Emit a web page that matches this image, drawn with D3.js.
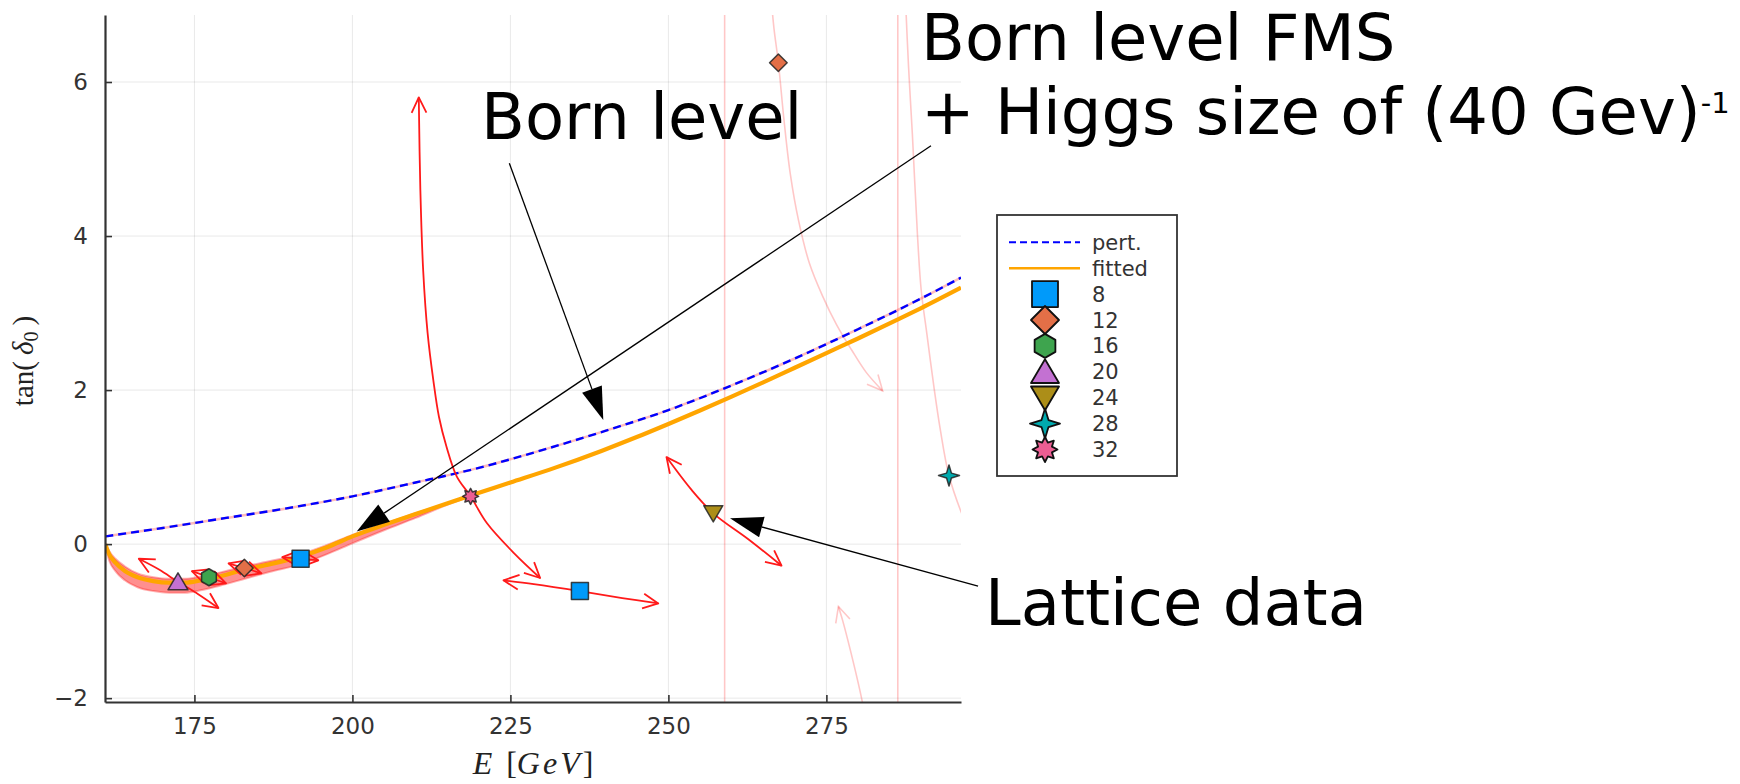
<!DOCTYPE html>
<html>
<head>
<meta charset="utf-8">
<script src="https://cdn.jsdelivr.net/npm/d3@7"></script>
<style>
  html, body { margin: 0; padding: 0; background: #fff; }
  svg { display: block; }
</style>
</head>
<body>
<svg id="chart" width="1740" height="784"></svg>
<script>
// ---- axis ticks ----
const energyTicks = [175, 200, 225, 250, 275];
const tanTicks = [-2, 0, 2, 4, 6];

// ---- fitted phase shift (orange) ----
const fitE = [160.9, 161.5, 162.5, 164, 166, 168.5, 171, 173.5, 176, 179, 183, 187, 191.8, 196, 200, 205, 210, 218.7, 225, 232, 239.4, 245, 250, 255, 260, 265, 270, 275, 280, 286, 290, 296.3];
const fitT = [0.00, -0.13, -0.24, -0.35, -0.43, -0.48, -0.50, -0.50, -0.47, -0.42, -0.33, -0.26, -0.16, -0.04, 0.10, 0.25, 0.39, 0.63, 0.80, 0.99, 1.21, 1.39, 1.56, 1.735, 1.915, 2.10, 2.29, 2.48, 2.67, 2.905, 3.065, 3.33];

// ---- uncertainty band of the fit ----
const bandE  = [160.9, 161.5, 162.5, 164, 166, 168.5, 171, 173.5, 176, 179, 183, 187, 191.8, 196, 200, 205, 210, 215, 218.7];
const bandLo = [-0.01, -0.21, -0.35, -0.47, -0.56, -0.61, -0.63, -0.63, -0.60, -0.54, -0.45, -0.36, -0.26, -0.13, 0.01, 0.18, 0.34, 0.51, 0.62];
const bandHi = [0.01, -0.09, -0.19, -0.29, -0.38, -0.43, -0.45, -0.45, -0.42, -0.37, -0.29, -0.22, -0.13, -0.01, 0.12, 0.26, 0.40, 0.53, 0.63];

// ---- perturbative curve (blue dashed) ----
const pertE = [160.9, 170, 180, 190, 200, 210, 220, 230, 240, 250, 260, 270, 280, 290, 296.3];
const pertT = [0.10, 0.21, 0.34, 0.47, 0.62, 0.80, 0.99, 1.22, 1.47, 1.74, 2.06, 2.41, 2.79, 3.19, 3.46];

// ---- lattice points, one series per lattice size ----
const seriesNames = ["8", "12", "16", "20", "24", "28", "32"];
const seriesShapes = ["square", "diamond", "hexagon", "utriangle", "dtriangle", "star4", "star8"];
const seriesColors = ["#009AFA", "#E36F47", "#3EA44E", "#C371D2", "#AC8E18", "#00AAAE", "#ED5E93"];
const seriesE = [[191.8, 236.0], [182.9, 267.4], [177.3], [172.4], [257.1], [294.4], [218.7]];
const seriesT = [[-0.19, -0.61], [-0.31, 6.25], [-0.43], [-0.49], [0.40], [0.89], [0.62]];

// ---- error curves through the lattice points (double-headed) ----
const errCurves = [
  [[210.5, 5.80], [210.75, 4.60], [211.2, 3.55], [211.9, 2.74], [212.8, 2.13], [213.7, 1.65], [214.9, 1.26], [216.5, 0.88], [218.7, 0.62], [221.3, 0.27], [225.6, -0.12], [229.7, -0.44]],
  [[223.9, -0.47], [228.7, -0.52], [236.0, -0.61], [242.7, -0.70], [248.4, -0.77]],
  [[249.7, 1.13], [253.7, 0.70], [257.1, 0.40], [262.7, 0.06], [267.9, -0.28]],
  [[166.2, -0.19], [169.4, -0.33], [172.4, -0.49], [175.6, -0.65], [178.8, -0.83]],
  [[174.6, -0.35], [177.3, -0.43], [180.0, -0.51]],
  [[180.4, -0.25], [182.9, -0.31], [185.6, -0.38]],
  [[188.9, -0.17], [191.8, -0.19], [194.6, -0.21]]
];

// ---- faint error curves that run off the frame (head at the last point only) ----
const faintCurves = [
  [[266.3, 7.05], [266.7, 6.70], [267.4, 6.25], [268.3, 5.50], [269.3, 4.80], [270.6, 4.20], [272.3, 3.65], [274.4, 3.22], [276.6, 2.85], [279.0, 2.52], [281.3, 2.23], [283.9, 1.99]],
  [[281.3, -2.30], [280.3, -1.90], [278.8, -1.38], [277.6, -1.00], [276.9, -0.81]]
];
const faintOpen = [
  [[287.5, 7.10], [288.0, 6.20], [288.6, 5.33], [289.4, 4.03], [290.0, 3.30], [290.9, 2.73], [292.0, 2.05], [293.0, 1.50], [294.4, 0.89], [296.5, 0.38], [297.5, 0.20]]
];
const faintVerticals = [258.9, 286.3];

// ---- chart frame ----
const svg = d3.select("#chart");
const x = d3.scaleLinear().domain([160.85, 296.3]).range([105, 961]);
const y = d3.scaleLinear().domain([-2.05, 6.87]).range([702, 15]);
const [x0, x1] = x.range();
const [y0, y1] = y.range();

svg.append("rect").attr("width", 1740).attr("height", 784).attr("fill", "#fff");

svg.append("defs").append("clipPath").attr("id", "plotClip")
  .append("rect").attr("x", x0).attr("y", y1).attr("width", x1 - x0).attr("height", y0 - y1);

// grid
const grid = svg.append("g").attr("stroke", "#000").attr("stroke-opacity", 0.09).attr("stroke-width", 1);
grid.selectAll("line.gx").data(energyTicks).join("line")
  .attr("x1", d => x(d)).attr("x2", d => x(d)).attr("y1", y1).attr("y2", y0);
grid.selectAll("line.gy").data(tanTicks).join("line")
  .attr("y1", d => y(d)).attr("y2", d => y(d)).attr("x1", x0).attr("x2", x1);

const plot = svg.append("g").attr("clip-path", "url(#plotClip)");

// band
const bandData = bandE.map((e, i) => ({ e, lo: bandLo[i], hi: bandHi[i] }));
plot.append("path").datum(bandData)
  .attr("d", d3.area().x(d => x(d.e)).y0(d => y(d.lo)).y1(d => y(d.hi)).curve(d3.curveMonotoneX))
  .attr("fill", "#ff2020").attr("fill-opacity", 0.5).attr("stroke", "#ff2020").attr("stroke-opacity", 0.35).attr("stroke-width", 2);

// faint curves
const smooth = d3.line().x(d => x(d[0])).y(d => y(d[1])).curve(d3.curveCatmullRom.alpha(0.5));
const faint = plot.append("g").attr("fill", "none").attr("stroke", "#ff0000").attr("stroke-opacity", 0.22).attr("stroke-width", 1.6);
faint.selectAll("line.v").data(faintVerticals).join("line")
  .attr("x1", d => x(d)).attr("x2", d => x(d)).attr("y1", y1).attr("y2", y0);
faint.selectAll("path.open").data(faintOpen).join("path").attr("d", smooth);
faint.selectAll("path.c").data(faintCurves).join("path").attr("d", smooth);

function chevron(pts, atEnd, len, ang) {
  const a = atEnd ? pts[pts.length - 1] : pts[0];
  const b = atEnd ? pts[pts.length - 2] : pts[1];
  const tx = x(a[0]), ty = y(a[1]);
  const dx = x(b[0]) - tx, dy = y(b[1]) - ty;
  const d = Math.hypot(dx, dy);
  const ux = dx / d, uy = dy / d;
  const c = Math.cos(ang), s = Math.sin(ang);
  const l = [tx + len * (ux * c - uy * s), ty + len * (ux * s + uy * c)];
  const r = [tx + len * (ux * c + uy * s), ty + len * (-ux * s + uy * c)];
  return `M${l[0]},${l[1]}L${tx},${ty}L${r[0]},${r[1]}`;
}
faint.selectAll("path.h").data(faintCurves).join("path").attr("d", p => chevron(p, true, 17, 0.45));

// perturbative curve
const lineP = d3.line().x((d, i) => x(pertE[i])).y(d => y(d)).curve(d3.curveMonotoneX);
plot.append("path").datum(pertT).attr("d", lineP)
  .attr("fill", "none").attr("stroke", "#ff4040").attr("stroke-opacity", 0.35).attr("stroke-width", 2.5);
plot.append("path").datum(pertT).attr("d", lineP)
  .attr("fill", "none").attr("stroke", "#0000ff").attr("stroke-width", 2.4).attr("stroke-dasharray", "8,5");

// fitted curve
const lineF = d3.line().x((d, i) => x(fitE[i])).y(d => y(d)).curve(d3.curveMonotoneX);
plot.append("path").datum(fitT).attr("d", lineF)
  .attr("fill", "none").attr("stroke", "#ffa500").attr("stroke-width", 4.2);

// error curves through lattice points
const err = plot.append("g").attr("fill", "none").attr("stroke", "#ff1a1a").attr("stroke-width", 1.8)
  .attr("stroke-linejoin", "round");
err.selectAll("path.c").data(errCurves).join("path").attr("d", smooth);
err.selectAll("path.h1").data(errCurves).join("path").attr("d", p => chevron(p, true, 17, 0.45));
err.selectAll("path.h0").data(errCurves).join("path").attr("d", p => chevron(p, false, 17, 0.45));

// marker shapes
function shapePath(shape, r) {
  const poly = pts => "M" + pts.map(p => p[0].toFixed(2) + "," + p[1].toFixed(2)).join("L") + "Z";
  const star = (n, ri) => {
    const pts = [];
    for (let k = 0; k < 2 * n; k++) {
      const a = -Math.PI / 2 + k * Math.PI / n;
      const rr = k % 2 ? ri : r;
      pts.push([rr * Math.cos(a), rr * Math.sin(a)]);
    }
    return poly(pts);
  };
  switch (shape) {
    case "square": return poly([[-r, -r], [r, -r], [r, r], [-r, r]]);
    case "diamond": return poly([[0, -r], [r, 0], [0, r], [-r, 0]]);
    case "hexagon": return poly(d3.range(6).map(k => [r * Math.cos(k * Math.PI / 3 + Math.PI / 6), r * Math.sin(k * Math.PI / 3 + Math.PI / 6)]));
    case "utriangle": return poly([[0, -0.9 * r], [r, 0.8 * r], [-r, 0.8 * r]]);
    case "dtriangle": return poly([[0, 0.9 * r], [r, -0.8 * r], [-r, -0.8 * r]]);
    case "star4": return star(4, 0.33 * r);
    case "star8": return star(8, 0.6 * r);
  }
}
const plotSize = { square: 8.5, diamond: 8.8, hexagon: 8.5, utriangle: 10, dtriangle: 9.5, star4: 10.5, star8: 8 };
const legendSize = { square: 13, diamond: 14, hexagon: 12, utriangle: 14, dtriangle: 14, star4: 15, star8: 12.5 };

const pts = [];
seriesNames.forEach((name, si) => {
  seriesE[si].forEach((e, k) => pts.push({ si, e, t: seriesT[si][k] }));
});
svg.append("g").selectAll("path").data(pts).join("path")
  .attr("transform", d => `translate(${x(d.e)},${y(d.t)})`)
  .attr("d", d => shapePath(seriesShapes[d.si], plotSize[seriesShapes[d.si]]))
  .attr("fill", d => seriesColors[d.si])
  .attr("stroke", "#222").attr("stroke-opacity", 0.85).attr("stroke-width", 1.5).attr("stroke-linejoin", "round");

// axes
const tickFont = "'DejaVu Sans', sans-serif";
const gx = svg.append("g").attr("transform", `translate(0,${y0})`)
  .call(d3.axisBottom(x).tickValues(energyTicks).tickSize(-7).tickSizeOuter(0).tickPadding(16));
const gy = svg.append("g").attr("transform", `translate(${x0},0)`)
  .call(d3.axisLeft(y).tickValues(tanTicks).tickSize(-7).tickSizeOuter(0).tickPadding(17));
[gx, gy].forEach(g => {
  g.attr("font-family", tickFont).attr("font-size", 23);
  g.select(".domain").attr("stroke", "#333").attr("stroke-width", 2.2);
  g.selectAll(".tick line").attr("stroke", "#333").attr("stroke-width", 1.6);
  g.selectAll(".tick text").attr("fill", "#333");
});

// axis titles
const xt = svg.append("text").attr("x", 533).attr("y", 774)
  .attr("text-anchor", "middle").attr("font-family", "'Liberation Serif', serif").attr("font-size", 32).attr("fill", "#222");
xt.append("tspan").attr("font-style", "italic").text("E");
xt.append("tspan").attr("dx", 14).text("[");
xt.append("tspan").attr("font-style", "italic").attr("letter-spacing", 3).text("GeV");
xt.append("tspan").text("]");

const yt = svg.append("text").attr("transform", "translate(33,361) rotate(-90)")
  .attr("text-anchor", "middle").attr("font-family", "'Liberation Serif', serif").attr("font-size", 29).attr("fill", "#222");
yt.append("tspan").text("tan(");
yt.append("tspan").attr("dx", 6).attr("font-style", "italic").text("δ");
yt.append("tspan").attr("font-size", 20).attr("dy", 5).text("0");
yt.append("tspan").attr("dy", -5).attr("dx", 6).text(")");

// legend
const legend = svg.append("g").attr("transform", "translate(997,215)");
legend.append("rect").attr("width", 180).attr("height", 261)
  .attr("fill", "#fff").attr("stroke", "#333").attr("stroke-width", 1.8);
const rowY = i => 27.3 + i * 25.9;
const legendRows = ["pert.", "fitted"].concat(seriesNames);
legend.append("line").attr("x1", 12).attr("x2", 83).attr("y1", rowY(0)).attr("y2", rowY(0))
  .attr("stroke", "#0000ff").attr("stroke-width", 2).attr("stroke-dasharray", "7,4");
legend.append("line").attr("x1", 12).attr("x2", 83).attr("y1", rowY(1)).attr("y2", rowY(1))
  .attr("stroke", "#ffa500").attr("stroke-width", 2.4);
seriesNames.forEach((n, i) => {
  legend.append("path").attr("transform", `translate(48,${rowY(i + 2)})`)
    .attr("d", shapePath(seriesShapes[i], legendSize[seriesShapes[i]]))
    .attr("fill", seriesColors[i]).attr("stroke", "#111").attr("stroke-width", 1.8).attr("stroke-linejoin", "round");
});
legend.selectAll("text").data(legendRows).join("text")
  .attr("x", 95).attr("y", (d, i) => rowY(i)).attr("dy", "0.36em")
  .attr("font-family", tickFont).attr("font-size", 21).attr("fill", "#333")
  .text(d => d);

// annotations (anchored in data coordinates)
const notes = [
  { from: [224.83, 4.945], to: [239.7, 1.61] },
  { from: [291.55, 5.173], to: [200.68, 0.163] },
  { from: [299.0, -0.544], to: [259.75, 0.335] }
];
const ann = svg.append("g");
notes.forEach(n => {
  const sx = x(n.from[0]), sy = y(n.from[1]), tx = x(n.to[0]), ty = y(n.to[1]);
  const d = Math.hypot(tx - sx, ty - sy), ux = (tx - sx) / d, uy = (ty - sy) / d;
  const L = 33, hw = 10.5;
  const bx = tx - ux * L, by = ty - uy * L;
  ann.append("line").attr("x1", sx).attr("y1", sy).attr("x2", bx).attr("y2", by)
    .attr("stroke", "#000").attr("stroke-width", 1.3);
  ann.append("path")
    .attr("d", `M${tx},${ty}L${bx - uy * hw},${by + ux * hw}L${bx + uy * hw},${by - ux * hw}Z`)
    .attr("fill", "#000");
});
const bigFont = "'DejaVu Sans', sans-serif";
ann.append("text").attr("x", x(220.35)).attr("y", y(5.26))
  .attr("font-family", bigFont).attr("font-size", 64).attr("fill", "#000").text("Born level");
ann.append("text").attr("x", x(289.97)).attr("y", y(6.29))
  .attr("font-family", bigFont).attr("font-size", 64).attr("fill", "#000").text("Born level FMS");
const fms2 = ann.append("text").attr("x", x(289.97)).attr("y", y(5.325))
  .attr("font-family", bigFont).attr("font-size", 64).attr("fill", "#000");
fms2.append("tspan").text("+ Higgs size of (40 Gev)");
fms2.append("tspan").attr("font-size", 29).attr("dy", -21).text("-1");
ann.append("text").attr("x", x(300.1)).attr("y", y(-1.05))
  .attr("font-family", bigFont).attr("font-size", 64).attr("fill", "#000").text("Lattice data");
</script>
</body>
</html>
